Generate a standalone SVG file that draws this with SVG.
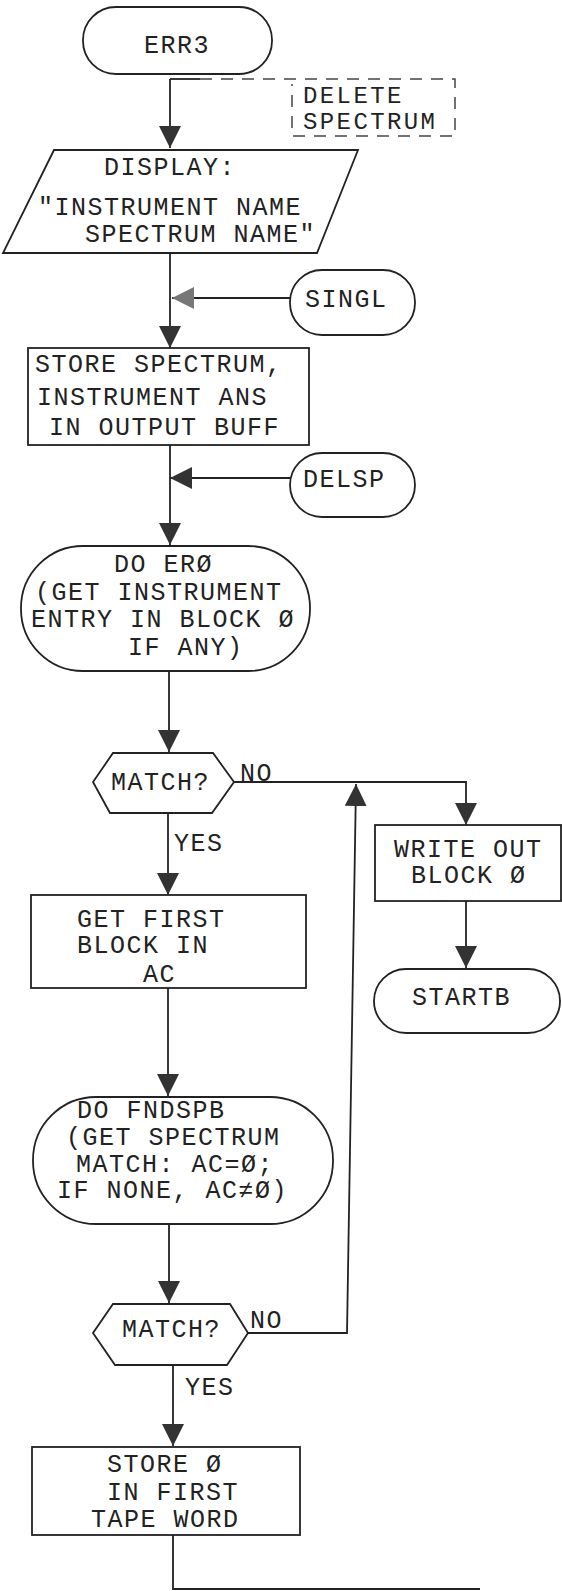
<svg xmlns="http://www.w3.org/2000/svg" width="562" height="1591" viewBox="0 0 562 1591">
<defs>
<style>
.s{fill:none;stroke:#222;stroke-width:1.8}
.n{fill:#fff;stroke:#222;stroke-width:1.8}
.t{font-family:"Liberation Mono","DejaVu Sans Mono",monospace;font-size:25px;letter-spacing:1.5px;fill:#222}
.sm{font-size:24px;letter-spacing:2.4px}
.d{fill:none;stroke:#444;stroke-width:1.5;stroke-dasharray:12 9}
</style>
<marker id="ah" markerUnits="userSpaceOnUse" markerWidth="24" markerHeight="22" viewBox="0 0 24 22" refX="22" refY="11" orient="auto">
<path d="M0,0 L22,11 L0,22 Z" fill="#333"/>
</marker>
<marker id="ahg" markerUnits="userSpaceOnUse" markerWidth="24" markerHeight="22" viewBox="0 0 24 22" refX="22" refY="11" orient="auto">
<path d="M0,0 L22,11 L0,22 Z" fill="#777"/>
</marker>
</defs>
<rect width="562" height="1591" fill="#fff"/>

<g id="connectors">
<path class="s" d="M170,79 V148" marker-end="url(#ah)"/>
<path class="s" d="M170,253 V348" marker-end="url(#ah)"/>
<path class="s" d="M290,298 H172" marker-end="url(#ahg)"/>
<path class="s" d="M170,445 V545" marker-end="url(#ah)"/>
<path class="s" d="M290,478 H170" marker-end="url(#ah)"/>
<path class="s" d="M169,671 V752" marker-end="url(#ah)"/>
<path class="s" d="M234,782 H466 V825" marker-end="url(#ah)"/>
<path class="s" d="M168,813 V895" marker-end="url(#ah)"/>
<path class="s" d="M466,901 V968" marker-end="url(#ah)"/>
<path class="s" d="M168,988 V1096" marker-end="url(#ah)"/>
<path class="s" d="M169,1224 V1303" marker-end="url(#ah)"/>
<path class="s" d="M248,1333 H347 L356,784" marker-end="url(#ah)"/>
<path class="s" d="M173,1365 V1446" marker-end="url(#ah)"/>
<path class="s" d="M173,1535 V1589 H480"/>
</g>

<g id="annotation">
<path class="s" d="M170,79 H200"/>
<path class="d" d="M200,79 H455 V136 H292 V84"/>
<text class="t sm" x="303" y="103">DELETE</text>
<text class="t sm" x="303" y="129">SPECTRUM</text>
</g>

<g id="err3">
<rect class="n" x="83" y="7" width="189" height="67" rx="33" ry="33"/>
<text class="t" x="177" y="53" text-anchor="middle">ERR3</text>
</g>

<g id="display">
<polygon class="n" points="54,150 358,150 317,253 3,253"/>
<text class="t" x="104" y="175">DISPLAY:</text>
<text class="t" x="38" y="215">"INSTRUMENT NAME</text>
<text class="t" x="85" y="242">SPECTRUM NAME"</text>
</g>

<g id="singl">
<rect class="n" x="290" y="270" width="125" height="65" rx="32" ry="32"/>
<text class="t" x="305" y="307">SINGL</text>
</g>

<g id="store-spectrum">
<rect class="n" x="28" y="348" width="281" height="97"/>
<text class="t" x="35" y="372">STORE SPECTRUM,</text>
<text class="t" x="37" y="405">INSTRUMENT ANS</text>
<text class="t" x="49" y="435">IN OUTPUT BUFF</text>
</g>

<g id="delsp">
<rect class="n" x="290" y="453" width="125" height="64" rx="32" ry="32"/>
<text class="t" x="303" y="487">DELSP</text>
</g>

<g id="do-er0">
<rect class="n" x="21" y="546" width="289" height="125" rx="62" ry="62"/>
<text class="t" x="114" y="572">DO ERØ</text>
<text class="t" x="35" y="600">(GET INSTRUMENT</text>
<text class="t" x="31" y="627">ENTRY IN BLOCK Ø</text>
<text class="t" x="128" y="655">IF ANY)</text>
</g>

<g id="match1">
<polygon class="n" points="113,753 213,753 234,782 212,813 110,813 93,782"/>
<text class="t" x="111" y="790">MATCH?</text>
<text class="t" x="240" y="781">NO</text>
<text class="t" x="174" y="851">YES</text>
</g>

<g id="write-out">
<rect class="n" x="375" y="825" width="186" height="76"/>
<text class="t" x="394" y="857">WRITE OUT</text>
<text class="t" x="411" y="883">BLOCK Ø</text>
</g>

<g id="startb">
<rect class="n" x="374" y="969" width="186" height="64" rx="32" ry="32"/>
<text class="t" x="412" y="1005">STARTB</text>
</g>

<g id="get-first">
<rect class="n" x="31" y="895" width="275" height="93"/>
<text class="t" x="77" y="927">GET FIRST</text>
<text class="t" x="77" y="953">BLOCK IN</text>
<text class="t" x="143" y="982">AC</text>
</g>

<g id="do-fndspb">
<rect class="n" x="33" y="1097" width="300" height="127" rx="63" ry="63"/>
<text class="t" x="77" y="1118">DO FNDSPB</text>
<text class="t" x="66" y="1145">(GET SPECTRUM</text>
<text class="t" x="76" y="1172">MATCH: AC=Ø;</text>
<text class="t" x="57" y="1198">IF NONE, AC≠Ø)</text>
</g>

<g id="match2">
<polygon class="n" points="113,1304 230,1304 248,1333 227,1365 115,1365 93,1333"/>
<text class="t" x="122" y="1337">MATCH?</text>
<text class="t" x="250" y="1328">NO</text>
<text class="t" x="185" y="1395">YES</text>
</g>

<g id="store-zero">
<rect class="n" x="32" y="1447" width="268" height="88"/>
<text class="t" x="107" y="1472">STORE Ø</text>
<text class="t" x="107" y="1500">IN FIRST</text>
<text class="t" x="91" y="1527">TAPE WORD</text>
</g>
</svg>
